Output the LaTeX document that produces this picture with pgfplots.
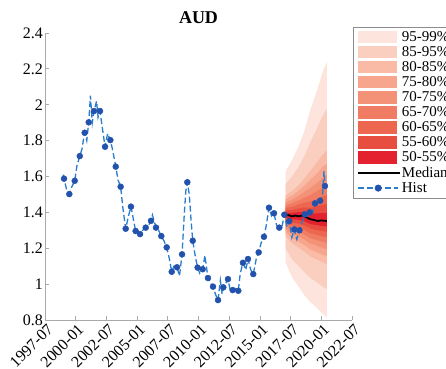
\documentclass[border=0pt]{standalone}
\usepackage{fontspec}
\setmainfont{Liberation Serif}
\usepackage{pgfplots}
\usepackage{pgfplotstable}
\pgfplotsset{compat=1.18}
\definecolor{c99}{RGB}{253,228,220}
\definecolor{c95}{RGB}{251,207,192}
\definecolor{c85}{RGB}{249,186,166}
\definecolor{c80}{RGB}{247,166,141}
\definecolor{c75}{RGB}{244,146,120}
\definecolor{c70}{RGB}{240,125,99}
\definecolor{c65}{RGB}{236,102,80}
\definecolor{c60}{RGB}{232,78,63}
\definecolor{c55}{RGB}{228,33,47}
\definecolor{histline}{RGB}{40,125,205}
\definecolor{histmark}{RGB}{35,82,172}
\definecolor{axgray}{RGB}{170,170,170}

\pgfplotsset{
  bandleg/.style={legend image code/.code={\fill[##1] (0pt,-6pt) rectangle (39pt,6.5pt);}},
  medleg/.style={legend image code/.code={\draw[##1] (0pt,0pt) -- (42pt,0pt);}},
  histleg/.style={legend image code/.code={\draw[histline, line width=1.3pt, dash pattern=on 6pt off 3pt] (0pt,0pt) -- (40pt,0pt); \fill[histmark] (20pt,0pt) circle (3.2pt);}},
}

\pgfplotstableread{
x y
1998.98 1.610
1999.05 1.588
1999.25 1.530
1999.48 1.502
1999.70 1.545
1999.92 1.576
2000.10 1.660
2000.33 1.714
2000.50 1.750
2000.73 1.844
2000.90 1.800
2001.06 1.902
2001.20 2.050
2001.35 1.900
2001.49 1.965
2001.70 2.020
2001.82 1.930
2001.98 1.965
2002.15 1.880
2002.39 1.766
2002.60 1.840
2002.82 1.803
2003.00 1.750
2003.26 1.655
2003.45 1.580
2003.66 1.543
2003.85 1.420
2004.07 1.309
2004.30 1.380
2004.50 1.432
2004.70 1.360
2004.88 1.296
2005.05 1.300
2005.24 1.279
2005.45 1.300
2005.70 1.315
2005.95 1.330
2006.13 1.353
2006.25 1.385
2006.54 1.315
2006.75 1.300
2006.97 1.268
2007.20 1.240
2007.41 1.205
2007.60 1.150
2007.82 1.069
2008.00 1.100
2008.25 1.094
2008.45 1.045
2008.66 1.166
2008.85 1.400
2008.97 1.520
2009.09 1.568
2009.25 1.500
2009.40 1.350
2009.53 1.242
2009.75 1.150
2009.93 1.092
2010.10 1.060
2010.34 1.083
2010.52 1.160
2010.77 1.034
2010.95 1.010
2011.18 0.986
2011.40 0.940
2011.59 0.911
2011.78 1.020
2011.92 0.945
2012.02 0.982
2012.20 1.000
2012.40 1.028
2012.60 0.960
2012.78 0.967
2013.00 0.975
2013.24 0.963
2013.40 1.060
2013.62 1.119
2013.85 1.080
2014.03 1.140
2014.25 1.080
2014.46 1.056
2014.70 1.140
2014.90 1.177
2015.10 1.230
2015.33 1.264
2015.50 1.320
2015.74 1.426
2015.95 1.380
2016.15 1.395
2016.35 1.330
2016.58 1.315
2016.80 1.320
2016.99 1.387
2017.20 1.320
2017.39 1.351
2017.60 1.260
2017.80 1.305
2018.00 1.250
2018.22 1.300
2018.45 1.350
2018.65 1.389
2018.85 1.380
2019.06 1.400
2019.30 1.400
2019.49 1.450
2019.70 1.440
2019.90 1.465
2020.10 1.500
2020.22 1.630
2020.30 1.547
}\histline

\pgfplotstableread{
x y
1999.05 1.588
1999.48 1.502
1999.92 1.576
2000.33 1.714
2000.73 1.844
2001.06 1.902
2001.49 1.965
2001.98 1.965
2002.39 1.766
2002.82 1.803
2003.26 1.655
2003.66 1.543
2004.07 1.309
2004.50 1.432
2004.88 1.296
2005.24 1.279
2005.70 1.315
2006.13 1.353
2006.54 1.315
2006.97 1.268
2007.41 1.205
2007.82 1.069
2008.25 1.094
2008.66 1.166
2009.09 1.568
2009.53 1.242
2009.93 1.092
2010.34 1.083
2010.77 1.034
2011.18 0.986
2011.59 0.911
2012.02 0.982
2012.40 1.028
2012.78 0.967
2013.24 0.963
2013.62 1.119
2014.03 1.140
2014.46 1.056
2014.90 1.177
2015.33 1.264
2015.74 1.426
2016.15 1.395
2016.58 1.315
2016.99 1.387
2017.39 1.351
2017.80 1.305
2018.22 1.300
2018.65 1.389
2019.06 1.400
2019.49 1.450
2019.90 1.465
2020.30 1.547
}\histmarks

\pgfplotstableread{
x y
2017.05 1.390
2017.30 1.385
2017.60 1.378
2017.90 1.382
2018.20 1.378
2018.50 1.383
2018.80 1.372
2019.10 1.362
2019.40 1.358
2019.70 1.352
2020.00 1.355
2020.30 1.353
2020.45 1.352
}\median

\begin{document}
\begin{tikzpicture}
\begin{axis}[
  at={(0pt,0pt)}, anchor=south west,
  scale only axis, width=307pt, height=287pt,
  xmin=1997.5, xmax=2022.5, ymin=0.8, ymax=2.4,
  axis x line*=bottom, axis y line*=left,
  axis line style={draw=axgray, line width=0.8pt, -},
  tick align=inside, major tick length=4pt,
  tick style={draw=axgray, line width=0.8pt},
  xtick={1997.5,2000,2002.5,2005,2007.5,2010,2012.5,2015,2017.5,2020,2022.5},
  xticklabels={1997-07,2000-01,2002-07,2005-01,2007-07,2010-01,2012-07,2015-01,2017-07,2020-01,2022-07},
  ytick={0.8,1,1.2,1.4,1.6,1.8,2,2.2,2.4},
  yticklabels={0.8,1,1.2,1.4,1.6,1.8,2,2.2,2.4},
  tick label style={font=\fontsize{16}{18}\selectfont},
  x tick label style={rotate=45, anchor=north east, inner sep=1pt, yshift=-2pt},
  y tick label style={inner sep=2pt},
  /pgf/number format/assume math mode=true,
  title={AUD},
  title style={anchor=base, yshift=4pt, font=\bfseries\fontsize{18}{20}\selectfont},
  legend style={at={(1.0033,1.0209)}, anchor=north west, draw=black!45, line width=0.6pt,
    fill=white, font=\fontsize{15}{15}\selectfont, inner xsep=4pt, inner ysep=3pt,
    row sep=1.5pt,
    nodes={inner sep=0.8pt, text height=10pt, text depth=2pt},
    /tikz/every even column/.append style={column sep=1pt}},
  legend cell align=left,
]
\addplot[fill=c99, draw=none, bandleg] coordinates {
(2017.1,1.120) (2017.6,1.040) (2018.1,0.990) (2018.6,0.940) (2019.1,0.900) (2019.6,0.870) (2020.1,0.835) (2020.45,0.815)
(2020.45,2.240) (2020.1,2.180) (2019.6,2.070) (2019.1,1.970) (2018.6,1.850) (2018.1,1.760) (2017.6,1.690) (2017.1,1.630)} -- cycle;
\addlegendentry{95-99\%}
\addplot[fill=c95, draw=none, bandleg] coordinates {
(2017.1,1.198) (2017.6,1.140) (2018.1,1.104) (2018.6,1.067) (2019.1,1.035) (2019.6,1.012) (2020.1,0.986) (2020.45,0.972)
(2020.45,1.979) (2020.1,1.938) (2019.6,1.861) (2019.1,1.791) (2018.6,1.711) (2018.1,1.649) (2017.6,1.599) (2017.1,1.558)} -- cycle;
\addlegendentry{85-95\%}
\addplot[fill=c85, draw=none, bandleg] coordinates {
(2017.1,1.267) (2017.6,1.229) (2018.1,1.206) (2018.6,1.181) (2019.1,1.155) (2019.6,1.139) (2020.1,1.122) (2020.45,1.112)
(2020.45,1.746) (2020.1,1.721) (2019.6,1.674) (2019.1,1.632) (2018.6,1.587) (2018.1,1.549) (2017.6,1.518) (2017.1,1.494)} -- cycle;
\addlegendentry{80-85\%}
\addplot[fill=c80, draw=none, bandleg] coordinates {
(2017.1,1.289) (2017.6,1.257) (2018.1,1.239) (2018.6,1.218) (2019.1,1.194) (2019.6,1.179) (2020.1,1.165) (2020.45,1.156)
(2020.45,1.672) (2020.1,1.652) (2019.6,1.614) (2019.1,1.581) (2018.6,1.547) (2018.1,1.518) (2017.6,1.492) (2017.1,1.474)} -- cycle;
\addlegendentry{75-80\%}
\addplot[fill=c75, draw=none, bandleg] coordinates {
(2017.1,1.308) (2017.6,1.281) (2018.1,1.267) (2018.6,1.249) (2019.1,1.227) (2019.6,1.214) (2020.1,1.202) (2020.45,1.195)
(2020.45,1.608) (2020.1,1.592) (2019.6,1.562) (2019.1,1.537) (2018.6,1.513) (2018.1,1.490) (2017.6,1.470) (2017.1,1.456)} -- cycle;
\addlegendentry{70-75\%}
\addplot[fill=c70, draw=none, bandleg] coordinates {
(2017.1,1.325) (2017.6,1.303) (2018.1,1.292) (2018.6,1.277) (2019.1,1.256) (2019.6,1.246) (2020.1,1.236) (2020.45,1.230)
(2020.45,1.551) (2020.1,1.539) (2019.6,1.516) (2019.1,1.497) (2018.6,1.482) (2018.1,1.466) (2017.6,1.450) (2017.1,1.440)} -- cycle;
\addlegendentry{65-70\%}
\addplot[fill=c65, draw=none, bandleg] coordinates {
(2017.1,1.341) (2017.6,1.324) (2018.1,1.316) (2018.6,1.303) (2019.1,1.284) (2019.6,1.275) (2020.1,1.266) (2020.45,1.262)
(2020.45,1.497) (2020.1,1.489) (2019.6,1.473) (2019.1,1.461) (2018.6,1.454) (2018.1,1.443) (2017.6,1.431) (2017.1,1.426)} -- cycle;
\addlegendentry{60-65\%}
\addplot[fill=c60, draw=none, bandleg] coordinates {
(2017.1,1.356) (2017.6,1.343) (2018.1,1.338) (2018.6,1.328) (2019.1,1.310) (2019.6,1.302) (2020.1,1.296) (2020.45,1.292)
(2020.45,1.447) (2020.1,1.442) (2019.6,1.433) (2019.1,1.426) (2018.6,1.427) (2018.1,1.421) (2017.6,1.414) (2017.1,1.412)} -- cycle;
\addlegendentry{55-60\%}
\addplot[fill=c55, draw=none, bandleg] coordinates {
(2017.1,1.371) (2017.6,1.362) (2018.1,1.359) (2018.6,1.351) (2019.1,1.335) (2019.6,1.329) (2020.1,1.324) (2020.45,1.321)
(2020.45,1.398) (2020.1,1.397) (2019.6,1.394) (2019.1,1.393) (2018.6,1.401) (2018.1,1.401) (2017.6,1.397) (2017.1,1.398)} -- cycle;
\addlegendentry{50-55\%}
\addplot[black, line width=1.8pt, medleg] table[x=x,y=y] {\median};
\addlegendentry{Median}
\addplot[histline, line width=1.3pt, dash pattern=on 6pt off 3pt, forget plot] table[x=x,y=y] {\histline};
\addplot[only marks, mark=*, mark size=3pt, color=histmark, forget plot] table[x=x,y=y] {\histmarks};
\addlegendimage{histleg}
\addlegendentry{Hist}
\end{axis}
\pgfresetboundingbox
\path[use as bounding box] (-45pt,-48pt) rectangle (401pt,320pt);
\end{tikzpicture}
\end{document}
